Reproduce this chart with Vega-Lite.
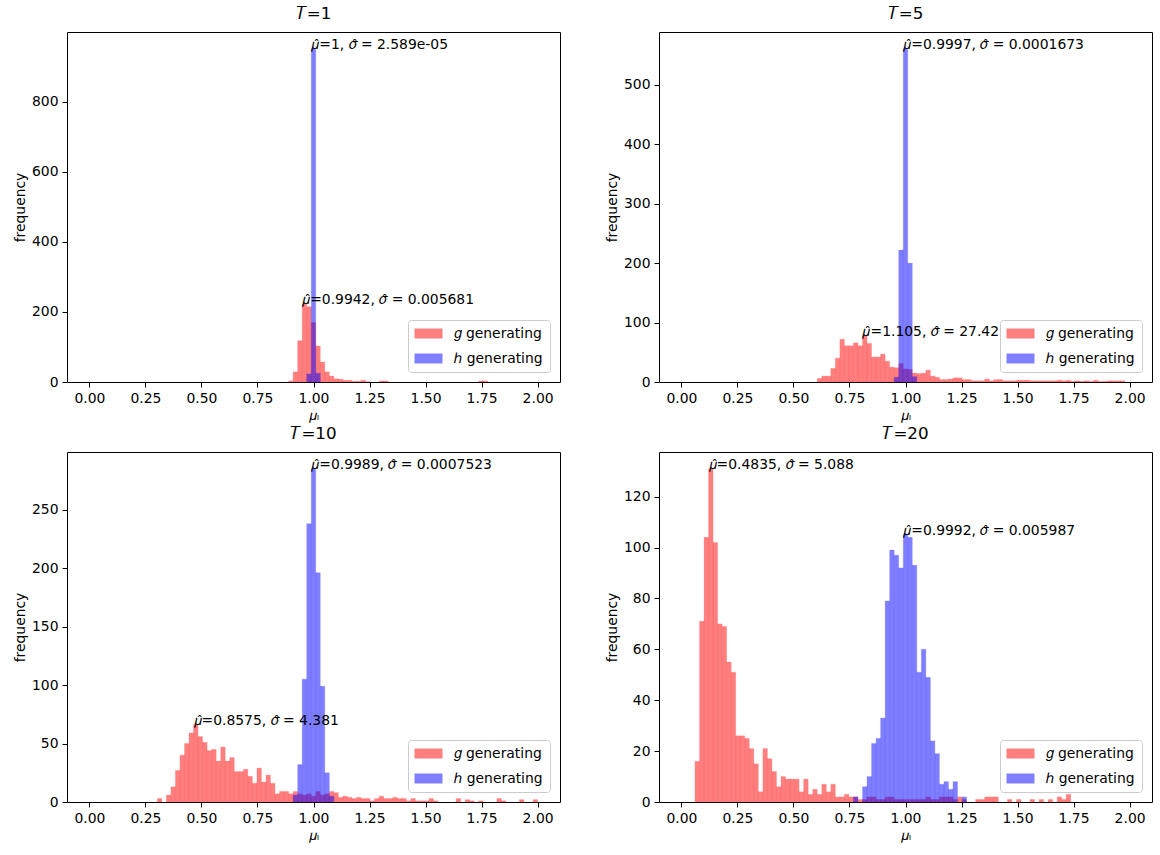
{
"$schema": "https://vega.github.io/schema/vega-lite/v6.json",
"padding": {"left": 12, "top": 5, "right": 5, "bottom": 5},
"background": "white",
"bounds": "flush",
"columns": 2,
"spacing": {"row": 70, "column": 99},
"resolve": {"scale": {"x": "independent", "y": "independent", "color": "independent"}, "legend": {"color": "independent"}},
"config": {
  "view": {"stroke": "black", "strokeWidth": 1},
  "axis": {"domain": false, "grid": false, "tickColor": "black", "tickSize": 5, "tickWidth": 1, "labelColor": "black", "labelFontSize": 13.9, "labelFont": "DejaVu Sans", "titleFont": "DejaVu Sans", "titleFontSize": 13.9, "titleFontWeight": "normal", "titleColor": "black", "labelPadding": 4, "titlePadding": 4, "labelFlush": false, "labelOverlap": false},
  "title": {"font": "DejaVu Sans", "fontSize": 16.7, "fontWeight": "normal", "offset": 9, "color": "black"},
  "legend": {"orient": "bottom-right", "offset": 10, "padding": 6.5, "strokeColor": "#cccccc", "strokeWidth": 1, "fillColor": "white", "cornerRadius": 3, "labelFont": "DejaVu Sans", "labelFontSize": 13.9, "labelColor": "black", "symbolType": "M-1,-0.714H3V0.714H-1Z", "symbolSize": 196, "symbolStrokeWidth": 0, "symbolOpacity": 0.5, "labelOffset": 25, "rowPadding": 11}
},
"datasets": {
"bins": [
{"T":1,"s":"g","a":0.8889,"b":0.9091,"n":3},
{"T":1,"s":"g","a":0.9091,"b":0.9293,"n":29},
{"T":1,"s":"g","a":0.9293,"b":0.9495,"n":118},
{"T":1,"s":"g","a":0.9495,"b":0.9697,"n":223},
{"T":1,"s":"g","a":0.9697,"b":0.9899,"n":215},
{"T":1,"s":"g","a":0.9899,"b":1.0101,"n":170},
{"T":1,"s":"g","a":1.0101,"b":1.0303,"n":103},
{"T":1,"s":"g","a":1.0303,"b":1.0505,"n":57},
{"T":1,"s":"g","a":1.0505,"b":1.0707,"n":29},
{"T":1,"s":"g","a":1.0707,"b":1.0909,"n":17},
{"T":1,"s":"g","a":1.0909,"b":1.1111,"n":9},
{"T":1,"s":"g","a":1.1111,"b":1.1313,"n":8},
{"T":1,"s":"g","a":1.1313,"b":1.1515,"n":5},
{"T":1,"s":"g","a":1.1515,"b":1.1717,"n":5},
{"T":1,"s":"g","a":1.1717,"b":1.1919,"n":2},
{"T":1,"s":"g","a":1.1919,"b":1.2121,"n":2},
{"T":1,"s":"g","a":1.2121,"b":1.2323,"n":5},
{"T":1,"s":"g","a":1.2323,"b":1.2525,"n":1},
{"T":1,"s":"g","a":1.2929,"b":1.3131,"n":3},
{"T":1,"s":"g","a":1.3131,"b":1.3333,"n":3},
{"T":1,"s":"g","a":1.7374,"b":1.7576,"n":3},
{"T":1,"s":"g","a":1.7576,"b":1.7778,"n":3},
{"T":1,"s":"h","a":0.9697,"b":0.9899,"n":23},
{"T":1,"s":"h","a":0.9899,"b":1.0101,"n":952},
{"T":1,"s":"h","a":1.0101,"b":1.0303,"n":25},
{"T":5,"s":"g","a":0.6061,"b":0.6263,"n":6},
{"T":5,"s":"g","a":0.6263,"b":0.6465,"n":10},
{"T":5,"s":"g","a":0.6465,"b":0.6667,"n":10},
{"T":5,"s":"g","a":0.6667,"b":0.6869,"n":23},
{"T":5,"s":"g","a":0.6869,"b":0.7071,"n":40},
{"T":5,"s":"g","a":0.7071,"b":0.7273,"n":72},
{"T":5,"s":"g","a":0.7273,"b":0.7475,"n":61},
{"T":5,"s":"g","a":0.7475,"b":0.7677,"n":61},
{"T":5,"s":"g","a":0.7677,"b":0.7879,"n":66},
{"T":5,"s":"g","a":0.7879,"b":0.8081,"n":61},
{"T":5,"s":"g","a":0.8081,"b":0.8283,"n":78},
{"T":5,"s":"g","a":0.8283,"b":0.8485,"n":65},
{"T":5,"s":"g","a":0.8485,"b":0.8687,"n":42},
{"T":5,"s":"g","a":0.8687,"b":0.8889,"n":42},
{"T":5,"s":"g","a":0.8889,"b":0.9091,"n":47},
{"T":5,"s":"g","a":0.9091,"b":0.9293,"n":35},
{"T":5,"s":"g","a":0.9293,"b":0.9495,"n":25},
{"T":5,"s":"g","a":0.9495,"b":0.9697,"n":24},
{"T":5,"s":"g","a":0.9697,"b":0.9899,"n":31},
{"T":5,"s":"g","a":0.9899,"b":1.0101,"n":22},
{"T":5,"s":"g","a":1.0101,"b":1.0303,"n":21},
{"T":5,"s":"g","a":1.0303,"b":1.0505,"n":15},
{"T":5,"s":"g","a":1.0505,"b":1.0707,"n":14},
{"T":5,"s":"g","a":1.0707,"b":1.0909,"n":15},
{"T":5,"s":"g","a":1.0909,"b":1.1111,"n":20},
{"T":5,"s":"g","a":1.1111,"b":1.1313,"n":10},
{"T":5,"s":"g","a":1.1313,"b":1.1515,"n":8},
{"T":5,"s":"g","a":1.1515,"b":1.1717,"n":4},
{"T":5,"s":"g","a":1.1717,"b":1.1919,"n":4},
{"T":5,"s":"g","a":1.1919,"b":1.2121,"n":5},
{"T":5,"s":"g","a":1.2121,"b":1.2323,"n":7},
{"T":5,"s":"g","a":1.2323,"b":1.2525,"n":7},
{"T":5,"s":"g","a":1.2525,"b":1.2727,"n":4},
{"T":5,"s":"g","a":1.2727,"b":1.2929,"n":4},
{"T":5,"s":"g","a":1.2929,"b":1.3131,"n":2},
{"T":5,"s":"g","a":1.3131,"b":1.3333,"n":2},
{"T":5,"s":"g","a":1.3333,"b":1.3535,"n":2},
{"T":5,"s":"g","a":1.3535,"b":1.3737,"n":5},
{"T":5,"s":"g","a":1.3737,"b":1.3939,"n":2},
{"T":5,"s":"g","a":1.3939,"b":1.4141,"n":4},
{"T":5,"s":"g","a":1.4141,"b":1.4343,"n":4},
{"T":5,"s":"g","a":1.4343,"b":1.4545,"n":2},
{"T":5,"s":"g","a":1.4545,"b":1.4747,"n":2},
{"T":5,"s":"g","a":1.4747,"b":1.4949,"n":2},
{"T":5,"s":"g","a":1.4949,"b":1.5152,"n":3},
{"T":5,"s":"g","a":1.5152,"b":1.5354,"n":3},
{"T":5,"s":"g","a":1.5354,"b":1.5556,"n":3},
{"T":5,"s":"g","a":1.5556,"b":1.5758,"n":2},
{"T":5,"s":"g","a":1.5758,"b":1.5960,"n":2},
{"T":5,"s":"g","a":1.5960,"b":1.6162,"n":2},
{"T":5,"s":"g","a":1.6162,"b":1.6364,"n":2},
{"T":5,"s":"g","a":1.6364,"b":1.6566,"n":2},
{"T":5,"s":"g","a":1.6566,"b":1.6768,"n":2},
{"T":5,"s":"g","a":1.6768,"b":1.6970,"n":3},
{"T":5,"s":"g","a":1.6970,"b":1.7172,"n":2},
{"T":5,"s":"g","a":1.7172,"b":1.7374,"n":3},
{"T":5,"s":"g","a":1.7374,"b":1.7576,"n":1},
{"T":5,"s":"g","a":1.7576,"b":1.7778,"n":2},
{"T":5,"s":"g","a":1.7778,"b":1.7980,"n":1},
{"T":5,"s":"g","a":1.7980,"b":1.8182,"n":2},
{"T":5,"s":"g","a":1.8182,"b":1.8384,"n":1},
{"T":5,"s":"g","a":1.8384,"b":1.8586,"n":3},
{"T":5,"s":"g","a":1.8586,"b":1.8788,"n":1},
{"T":5,"s":"g","a":1.8788,"b":1.8990,"n":1},
{"T":5,"s":"g","a":1.8990,"b":1.9192,"n":2},
{"T":5,"s":"g","a":1.9192,"b":1.9394,"n":2},
{"T":5,"s":"g","a":1.9394,"b":1.9596,"n":2},
{"T":5,"s":"g","a":1.9596,"b":1.9798,"n":2},
{"T":5,"s":"h","a":0.9495,"b":0.9697,"n":8},
{"T":5,"s":"h","a":0.9697,"b":0.9899,"n":222},
{"T":5,"s":"h","a":0.9899,"b":1.0101,"n":561},
{"T":5,"s":"h","a":1.0101,"b":1.0303,"n":200},
{"T":5,"s":"h","a":1.0303,"b":1.0505,"n":9},
{"T":10,"s":"g","a":0.3030,"b":0.3232,"n":3},
{"T":10,"s":"g","a":0.3434,"b":0.3636,"n":6},
{"T":10,"s":"g","a":0.3636,"b":0.3838,"n":13},
{"T":10,"s":"g","a":0.3838,"b":0.4040,"n":27},
{"T":10,"s":"g","a":0.4040,"b":0.4242,"n":40},
{"T":10,"s":"g","a":0.4242,"b":0.4444,"n":50},
{"T":10,"s":"g","a":0.4444,"b":0.4646,"n":59},
{"T":10,"s":"g","a":0.4646,"b":0.4848,"n":66},
{"T":10,"s":"g","a":0.4848,"b":0.5051,"n":56},
{"T":10,"s":"g","a":0.5051,"b":0.5253,"n":51},
{"T":10,"s":"g","a":0.5253,"b":0.5455,"n":44},
{"T":10,"s":"g","a":0.5455,"b":0.5657,"n":45},
{"T":10,"s":"g","a":0.5657,"b":0.5859,"n":35},
{"T":10,"s":"g","a":0.5859,"b":0.6061,"n":47},
{"T":10,"s":"g","a":0.6061,"b":0.6263,"n":35},
{"T":10,"s":"g","a":0.6263,"b":0.6465,"n":38},
{"T":10,"s":"g","a":0.6465,"b":0.6667,"n":26},
{"T":10,"s":"g","a":0.6667,"b":0.6869,"n":26},
{"T":10,"s":"g","a":0.6869,"b":0.7071,"n":28},
{"T":10,"s":"g","a":0.7071,"b":0.7273,"n":22},
{"T":10,"s":"g","a":0.7273,"b":0.7475,"n":16},
{"T":10,"s":"g","a":0.7475,"b":0.7677,"n":29},
{"T":10,"s":"g","a":0.7677,"b":0.7879,"n":17},
{"T":10,"s":"g","a":0.7879,"b":0.8081,"n":23},
{"T":10,"s":"g","a":0.8081,"b":0.8283,"n":16},
{"T":10,"s":"g","a":0.8283,"b":0.8485,"n":7},
{"T":10,"s":"g","a":0.8485,"b":0.8687,"n":9},
{"T":10,"s":"g","a":0.8687,"b":0.8889,"n":9},
{"T":10,"s":"g","a":0.8889,"b":0.9091,"n":7},
{"T":10,"s":"g","a":0.9091,"b":0.9293,"n":9},
{"T":10,"s":"g","a":0.9293,"b":0.9495,"n":7},
{"T":10,"s":"g","a":0.9495,"b":0.9697,"n":6},
{"T":10,"s":"g","a":0.9697,"b":0.9899,"n":7},
{"T":10,"s":"g","a":0.9899,"b":1.0101,"n":5},
{"T":10,"s":"g","a":1.0101,"b":1.0303,"n":9},
{"T":10,"s":"g","a":1.0303,"b":1.0505,"n":6},
{"T":10,"s":"g","a":1.0505,"b":1.0707,"n":7},
{"T":10,"s":"g","a":1.0707,"b":1.0909,"n":9},
{"T":10,"s":"g","a":1.0909,"b":1.1111,"n":8},
{"T":10,"s":"g","a":1.1111,"b":1.1313,"n":4},
{"T":10,"s":"g","a":1.1313,"b":1.1515,"n":5},
{"T":10,"s":"g","a":1.1515,"b":1.1717,"n":4},
{"T":10,"s":"g","a":1.1717,"b":1.1919,"n":3},
{"T":10,"s":"g","a":1.1919,"b":1.2121,"n":4},
{"T":10,"s":"g","a":1.2121,"b":1.2323,"n":3},
{"T":10,"s":"g","a":1.2323,"b":1.2525,"n":3},
{"T":10,"s":"g","a":1.2525,"b":1.2727,"n":1},
{"T":10,"s":"g","a":1.2727,"b":1.2929,"n":3},
{"T":10,"s":"g","a":1.2929,"b":1.3131,"n":5},
{"T":10,"s":"g","a":1.3131,"b":1.3333,"n":3},
{"T":10,"s":"g","a":1.3333,"b":1.3535,"n":3},
{"T":10,"s":"g","a":1.3535,"b":1.3737,"n":4},
{"T":10,"s":"g","a":1.3737,"b":1.3939,"n":3},
{"T":10,"s":"g","a":1.3939,"b":1.4141,"n":3},
{"T":10,"s":"g","a":1.4141,"b":1.4343,"n":1},
{"T":10,"s":"g","a":1.4343,"b":1.4545,"n":3},
{"T":10,"s":"g","a":1.4545,"b":1.4747,"n":1},
{"T":10,"s":"g","a":1.4747,"b":1.4949,"n":1},
{"T":10,"s":"g","a":1.4949,"b":1.5152,"n":1},
{"T":10,"s":"g","a":1.5152,"b":1.5354,"n":3},
{"T":10,"s":"g","a":1.5354,"b":1.5556,"n":1},
{"T":10,"s":"g","a":1.6364,"b":1.6566,"n":3},
{"T":10,"s":"g","a":1.6768,"b":1.6970,"n":2},
{"T":10,"s":"g","a":1.6970,"b":1.7172,"n":1},
{"T":10,"s":"g","a":1.7374,"b":1.7576,"n":1},
{"T":10,"s":"g","a":1.8182,"b":1.8384,"n":3},
{"T":10,"s":"g","a":1.8384,"b":1.8586,"n":1},
{"T":10,"s":"g","a":1.9192,"b":1.9394,"n":2},
{"T":10,"s":"g","a":1.9798,"b":2.0000,"n":2},
{"T":10,"s":"h","a":0.9091,"b":0.9293,"n":6},
{"T":10,"s":"h","a":0.9293,"b":0.9495,"n":32},
{"T":10,"s":"h","a":0.9495,"b":0.9697,"n":105},
{"T":10,"s":"h","a":0.9697,"b":0.9899,"n":238},
{"T":10,"s":"h","a":0.9899,"b":1.0101,"n":285},
{"T":10,"s":"h","a":1.0101,"b":1.0303,"n":196},
{"T":10,"s":"h","a":1.0303,"b":1.0505,"n":99},
{"T":10,"s":"h","a":1.0505,"b":1.0707,"n":25},
{"T":10,"s":"h","a":1.0707,"b":1.0909,"n":5},
{"T":20,"s":"g","a":0.0606,"b":0.0808,"n":16},
{"T":20,"s":"g","a":0.0808,"b":0.1010,"n":71},
{"T":20,"s":"g","a":0.1010,"b":0.1212,"n":104},
{"T":20,"s":"g","a":0.1212,"b":0.1414,"n":131},
{"T":20,"s":"g","a":0.1414,"b":0.1616,"n":102},
{"T":20,"s":"g","a":0.1616,"b":0.1818,"n":70},
{"T":20,"s":"g","a":0.1818,"b":0.2020,"n":69},
{"T":20,"s":"g","a":0.2020,"b":0.2222,"n":55},
{"T":20,"s":"g","a":0.2222,"b":0.2424,"n":51},
{"T":20,"s":"g","a":0.2424,"b":0.2626,"n":26},
{"T":20,"s":"g","a":0.2626,"b":0.2828,"n":26},
{"T":20,"s":"g","a":0.2828,"b":0.3030,"n":25},
{"T":20,"s":"g","a":0.3030,"b":0.3232,"n":21},
{"T":20,"s":"g","a":0.3232,"b":0.3434,"n":15},
{"T":20,"s":"g","a":0.3434,"b":0.3636,"n":4},
{"T":20,"s":"g","a":0.3636,"b":0.3838,"n":21},
{"T":20,"s":"g","a":0.3838,"b":0.4040,"n":17},
{"T":20,"s":"g","a":0.4040,"b":0.4242,"n":12},
{"T":20,"s":"g","a":0.4242,"b":0.4444,"n":6},
{"T":20,"s":"g","a":0.4444,"b":0.4646,"n":10},
{"T":20,"s":"g","a":0.4646,"b":0.4848,"n":9},
{"T":20,"s":"g","a":0.4848,"b":0.5051,"n":9},
{"T":20,"s":"g","a":0.5051,"b":0.5253,"n":9},
{"T":20,"s":"g","a":0.5253,"b":0.5455,"n":4},
{"T":20,"s":"g","a":0.5455,"b":0.5657,"n":9},
{"T":20,"s":"g","a":0.5657,"b":0.5859,"n":3},
{"T":20,"s":"g","a":0.5859,"b":0.6061,"n":5},
{"T":20,"s":"g","a":0.6061,"b":0.6263,"n":3},
{"T":20,"s":"g","a":0.6263,"b":0.6465,"n":7},
{"T":20,"s":"g","a":0.6465,"b":0.6667,"n":4},
{"T":20,"s":"g","a":0.6667,"b":0.6869,"n":7},
{"T":20,"s":"g","a":0.6869,"b":0.7071,"n":2},
{"T":20,"s":"g","a":0.7071,"b":0.7273,"n":2},
{"T":20,"s":"g","a":0.7273,"b":0.7475,"n":3},
{"T":20,"s":"g","a":0.7475,"b":0.7677,"n":2},
{"T":20,"s":"g","a":0.7677,"b":0.7879,"n":2},
{"T":20,"s":"g","a":0.7879,"b":0.8081,"n":1},
{"T":20,"s":"g","a":0.8081,"b":0.8283,"n":1},
{"T":20,"s":"g","a":0.8283,"b":0.8485,"n":2},
{"T":20,"s":"g","a":0.8485,"b":0.8687,"n":2},
{"T":20,"s":"g","a":0.8687,"b":0.8889,"n":1},
{"T":20,"s":"g","a":0.8889,"b":0.9091,"n":1},
{"T":20,"s":"g","a":0.9091,"b":0.9293,"n":2},
{"T":20,"s":"g","a":0.9293,"b":0.9495,"n":2},
{"T":20,"s":"g","a":0.9495,"b":0.9697,"n":1},
{"T":20,"s":"g","a":0.9697,"b":0.9899,"n":1},
{"T":20,"s":"g","a":0.9899,"b":1.0101,"n":1},
{"T":20,"s":"g","a":1.0101,"b":1.0303,"n":1},
{"T":20,"s":"g","a":1.0303,"b":1.0505,"n":1},
{"T":20,"s":"g","a":1.0505,"b":1.0707,"n":1},
{"T":20,"s":"g","a":1.0707,"b":1.0909,"n":1},
{"T":20,"s":"g","a":1.0909,"b":1.1111,"n":2},
{"T":20,"s":"g","a":1.1111,"b":1.1313,"n":1},
{"T":20,"s":"g","a":1.1313,"b":1.1515,"n":1},
{"T":20,"s":"g","a":1.1515,"b":1.1717,"n":2},
{"T":20,"s":"g","a":1.1717,"b":1.1919,"n":2},
{"T":20,"s":"g","a":1.1919,"b":1.2121,"n":2},
{"T":20,"s":"g","a":1.2121,"b":1.2323,"n":1},
{"T":20,"s":"g","a":1.2323,"b":1.2525,"n":2},
{"T":20,"s":"g","a":1.2525,"b":1.2727,"n":1},
{"T":20,"s":"g","a":1.3131,"b":1.3333,"n":1},
{"T":20,"s":"g","a":1.3333,"b":1.3535,"n":1},
{"T":20,"s":"g","a":1.3535,"b":1.3737,"n":2},
{"T":20,"s":"g","a":1.3737,"b":1.3939,"n":2},
{"T":20,"s":"g","a":1.3939,"b":1.4141,"n":2},
{"T":20,"s":"g","a":1.4545,"b":1.4747,"n":1},
{"T":20,"s":"g","a":1.4949,"b":1.5152,"n":1},
{"T":20,"s":"g","a":1.5556,"b":1.5758,"n":1},
{"T":20,"s":"g","a":1.5960,"b":1.6162,"n":1},
{"T":20,"s":"g","a":1.6364,"b":1.6566,"n":1},
{"T":20,"s":"g","a":1.6768,"b":1.6970,"n":2},
{"T":20,"s":"g","a":1.6970,"b":1.7172,"n":1},
{"T":20,"s":"g","a":1.7172,"b":1.7374,"n":3},
{"T":20,"s":"h","a":0.7677,"b":0.7879,"n":2},
{"T":20,"s":"h","a":0.8081,"b":0.8283,"n":6},
{"T":20,"s":"h","a":0.8283,"b":0.8485,"n":10},
{"T":20,"s":"h","a":0.8485,"b":0.8687,"n":23},
{"T":20,"s":"h","a":0.8687,"b":0.8889,"n":25},
{"T":20,"s":"h","a":0.8889,"b":0.9091,"n":33},
{"T":20,"s":"h","a":0.9091,"b":0.9293,"n":79},
{"T":20,"s":"h","a":0.9293,"b":0.9495,"n":99},
{"T":20,"s":"h","a":0.9495,"b":0.9697,"n":97},
{"T":20,"s":"h","a":0.9697,"b":0.9899,"n":92},
{"T":20,"s":"h","a":0.9899,"b":1.0101,"n":105},
{"T":20,"s":"h","a":1.0101,"b":1.0303,"n":104},
{"T":20,"s":"h","a":1.0303,"b":1.0505,"n":93},
{"T":20,"s":"h","a":1.0505,"b":1.0707,"n":51},
{"T":20,"s":"h","a":1.0707,"b":1.0909,"n":60},
{"T":20,"s":"h","a":1.0909,"b":1.1111,"n":49},
{"T":20,"s":"h","a":1.1111,"b":1.1313,"n":24},
{"T":20,"s":"h","a":1.1313,"b":1.1515,"n":19},
{"T":20,"s":"h","a":1.1515,"b":1.1717,"n":7},
{"T":20,"s":"h","a":1.1717,"b":1.1919,"n":8},
{"T":20,"s":"h","a":1.1919,"b":1.2121,"n":5},
{"T":20,"s":"h","a":1.2121,"b":1.2323,"n":8},
{"T":20,"s":"h","a":1.2525,"b":1.2727,"n":2}
],
"notes": [
{"T":1,"x":0.9495,"y":223,"label":"\ud835\udf07\u0302=0.9942, \ud835\udf0e\u0302 = 0.005681"},
{"T":1,"x":0.9899,"y":952,"label":"\ud835\udf07\u0302=1, \ud835\udf0e\u0302 = 2.589e-05"},
{"T":5,"x":0.8081,"y":78,"label":"\ud835\udf07\u0302=1.105, \ud835\udf0e\u0302 = 27.42"},
{"T":5,"x":0.9899,"y":561,"label":"\ud835\udf07\u0302=0.9997, \ud835\udf0e\u0302 = 0.0001673"},
{"T":10,"x":0.4646,"y":66,"label":"\ud835\udf07\u0302=0.8575, \ud835\udf0e\u0302 = 4.381"},
{"T":10,"x":0.9899,"y":285,"label":"\ud835\udf07\u0302=0.9989, \ud835\udf0e\u0302 = 0.0007523"},
{"T":20,"x":0.1212,"y":131,"label":"\ud835\udf07\u0302=0.4835, \ud835\udf0e\u0302 = 5.088"},
{"T":20,"x":0.9899,"y":105,"label":"\ud835\udf07\u0302=0.9992, \ud835\udf0e\u0302 = 0.005987"}
]
},
"concat": [
{"width": 493, "height": 350, "title": "\ud835\udc47=1",
 "layer": [
  {"data": {"name": "bins"}, "transform": [{"filter": "datum.T == 1"}],
   "mark": {"type": "bar", "opacity": 0.5, "strokeWidth": 0.3},
   "encoding": {
    "x": {"field": "a", "type": "quantitative", "title": "\ud835\udf07\u2097", "scale": {"domain": [-0.1, 2.1], "nice": false, "zero": false}, "axis": {"values": [0,0.25,0.5,0.75,1,1.25,1.5,1.75,2], "format": ".2f"}},
    "x2": {"field": "b"},
    "y": {"field": "n", "type": "quantitative", "title": "frequency", "stack": null, "scale": {"domain": [0, 999.6], "nice": false}, "axis": {"values": [0,200,400,600,800]}},
    "y2": {"datum": 0},
    "color": {"field": "s", "type": "nominal", "scale": {"domain": ["g","h"], "range": ["#ff0000","#0000ff"]}, "legend": {"title": null, "labelExpr": "datum.label == 'g' ? '\ud835\udc54 generating' : '\u210e generating'"}},
    "stroke": {"field": "s", "type": "nominal", "scale": {"domain": ["g","h"], "range": ["#ff0000","#0000ff"]}, "legend": null}
   }},
  {"data": {"name": "notes"}, "transform": [{"filter": "datum.T == 1"}],
   "mark": {"type": "text", "align": "left", "baseline": "alphabetic", "fontSize": 13.9, "font": "DejaVu Sans", "color": "black"},
   "encoding": {"x": {"field": "x", "type": "quantitative", "title": "\ud835\udf07\u2097"}, "y": {"field": "y", "type": "quantitative", "title": "frequency"}, "text": {"field": "label"}}}
 ]},
{"width": 493, "height": 350, "title": "\ud835\udc47=5",
 "layer": [
  {"data": {"name": "bins"}, "transform": [{"filter": "datum.T == 5"}],
   "mark": {"type": "bar", "opacity": 0.5, "strokeWidth": 0.3},
   "encoding": {
    "x": {"field": "a", "type": "quantitative", "title": "\ud835\udf07\u2097", "scale": {"domain": [-0.1, 2.1], "nice": false, "zero": false}, "axis": {"values": [0,0.25,0.5,0.75,1,1.25,1.5,1.75,2], "format": ".2f"}},
    "x2": {"field": "b"},
    "y": {"field": "n", "type": "quantitative", "title": "frequency", "stack": null, "scale": {"domain": [0, 589.05], "nice": false}, "axis": {"values": [0,100,200,300,400,500]}},
    "y2": {"datum": 0},
    "color": {"field": "s", "type": "nominal", "scale": {"domain": ["g","h"], "range": ["#ff0000","#0000ff"]}, "legend": {"title": null, "labelExpr": "datum.label == 'g' ? '\ud835\udc54 generating' : '\u210e generating'"}},
    "stroke": {"field": "s", "type": "nominal", "scale": {"domain": ["g","h"], "range": ["#ff0000","#0000ff"]}, "legend": null}
   }},
  {"data": {"name": "notes"}, "transform": [{"filter": "datum.T == 5"}],
   "mark": {"type": "text", "align": "left", "baseline": "alphabetic", "fontSize": 13.9, "font": "DejaVu Sans", "color": "black"},
   "encoding": {"x": {"field": "x", "type": "quantitative", "title": "\ud835\udf07\u2097"}, "y": {"field": "y", "type": "quantitative", "title": "frequency"}, "text": {"field": "label"}}}
 ]},
{"width": 493, "height": 350, "title": "\ud835\udc47=10",
 "layer": [
  {"data": {"name": "bins"}, "transform": [{"filter": "datum.T == 10"}],
   "mark": {"type": "bar", "opacity": 0.5, "strokeWidth": 0.3},
   "encoding": {
    "x": {"field": "a", "type": "quantitative", "title": "\ud835\udf07\u2097", "scale": {"domain": [-0.1, 2.1], "nice": false, "zero": false}, "axis": {"values": [0,0.25,0.5,0.75,1,1.25,1.5,1.75,2], "format": ".2f"}},
    "x2": {"field": "b"},
    "y": {"field": "n", "type": "quantitative", "title": "frequency", "stack": null, "scale": {"domain": [0, 299.25], "nice": false}, "axis": {"values": [0,50,100,150,200,250]}},
    "y2": {"datum": 0},
    "color": {"field": "s", "type": "nominal", "scale": {"domain": ["g","h"], "range": ["#ff0000","#0000ff"]}, "legend": {"title": null, "labelExpr": "datum.label == 'g' ? '\ud835\udc54 generating' : '\u210e generating'"}},
    "stroke": {"field": "s", "type": "nominal", "scale": {"domain": ["g","h"], "range": ["#ff0000","#0000ff"]}, "legend": null}
   }},
  {"data": {"name": "notes"}, "transform": [{"filter": "datum.T == 10"}],
   "mark": {"type": "text", "align": "left", "baseline": "alphabetic", "fontSize": 13.9, "font": "DejaVu Sans", "color": "black"},
   "encoding": {"x": {"field": "x", "type": "quantitative", "title": "\ud835\udf07\u2097"}, "y": {"field": "y", "type": "quantitative", "title": "frequency"}, "text": {"field": "label"}}}
 ]},
{"width": 493, "height": 350, "title": "\ud835\udc47=20",
 "layer": [
  {"data": {"name": "bins"}, "transform": [{"filter": "datum.T == 20"}],
   "mark": {"type": "bar", "opacity": 0.5, "strokeWidth": 0.3},
   "encoding": {
    "x": {"field": "a", "type": "quantitative", "title": "\ud835\udf07\u2097", "scale": {"domain": [-0.1, 2.1], "nice": false, "zero": false}, "axis": {"values": [0,0.25,0.5,0.75,1,1.25,1.5,1.75,2], "format": ".2f"}},
    "x2": {"field": "b"},
    "y": {"field": "n", "type": "quantitative", "title": "frequency", "stack": null, "scale": {"domain": [0, 137.55], "nice": false}, "axis": {"values": [0,20,40,60,80,100,120]}},
    "y2": {"datum": 0},
    "color": {"field": "s", "type": "nominal", "scale": {"domain": ["g","h"], "range": ["#ff0000","#0000ff"]}, "legend": {"title": null, "labelExpr": "datum.label == 'g' ? '\ud835\udc54 generating' : '\u210e generating'"}},
    "stroke": {"field": "s", "type": "nominal", "scale": {"domain": ["g","h"], "range": ["#ff0000","#0000ff"]}, "legend": null}
   }},
  {"data": {"name": "notes"}, "transform": [{"filter": "datum.T == 20"}],
   "mark": {"type": "text", "align": "left", "baseline": "alphabetic", "fontSize": 13.9, "font": "DejaVu Sans", "color": "black"},
   "encoding": {"x": {"field": "x", "type": "quantitative", "title": "\ud835\udf07\u2097"}, "y": {"field": "y", "type": "quantitative", "title": "frequency"}, "text": {"field": "label"}}}
 ]}
]
}
